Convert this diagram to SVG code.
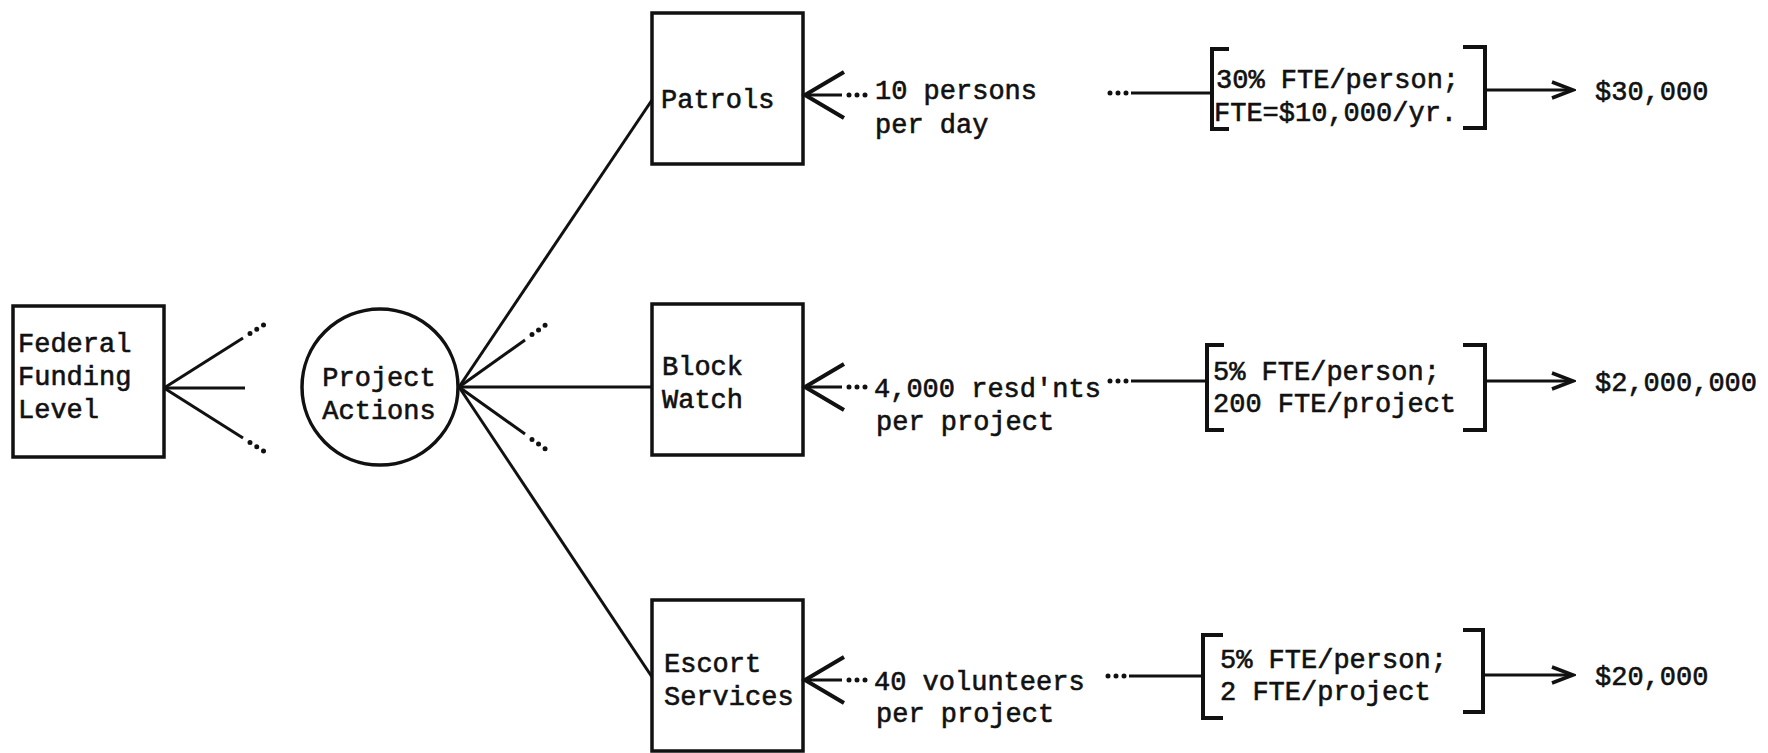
<svg xmlns="http://www.w3.org/2000/svg" width="1768" height="753" viewBox="0 0 1768 753">
<style>
  text { font-family: "Liberation Mono", "Courier New", monospace; font-size: 27px; fill: #111; stroke: #111; stroke-width: 0.6; }
  .box { fill: none; stroke: #111; stroke-width: 3.5; }
  .ln { fill: none; stroke: #111; stroke-width: 3; }
  .br { fill: none; stroke: #111; stroke-width: 4; }
  .dots { fill: none; stroke: #111; stroke-width: 5; stroke-linecap: round; stroke-dasharray: 0 8; }
</style>
<defs>
  <marker id="openR" markerUnits="userSpaceOnUse" markerWidth="26" markerHeight="22" refX="23" refY="11" orient="auto">
    <path d="M2,3 L23,11 L2,19" fill="none" stroke="#111" stroke-width="3.5"/>
  </marker>
  <marker id="openBig" markerUnits="userSpaceOnUse" markerWidth="46" markerHeight="52" refX="42" refY="26" orient="auto">
    <path d="M3,3 L42,26 L3,49" fill="none" stroke="#111" stroke-width="4"/>
  </marker>
</defs>
<rect width="1768" height="753" fill="#fff"/>

<g id="connectors">
  <!-- Federal fan -->
  <path class="ln" d="M164,388 L243,338"/>
  <path class="dots" d="M250,333.5 L267,322.7"/>
  <path class="ln" d="M164,388 L245,388"/>
  <path class="ln" d="M164,388 L243,438"/>
  <path class="dots" d="M250,442.5 L267,453.3"/>
  <!-- Project Actions fan -->
  <path class="ln" d="M459,387 L652,100"/>
  <path class="ln" d="M459,387 L525,340"/>
  <path class="dots" d="M532,334.5 L549,322.5"/>
  <path class="ln" d="M459,387 L652,387"/>
  <path class="ln" d="M459,387 L525,434"/>
  <path class="dots" d="M532,439.5 L549,451.5"/>
  <path class="ln" d="M459,387 L652,677"/>
  <!-- Row 1 -->
  <path class="ln" d="M842,95 L805,95" marker-end="url(#openBig)"/>
  <path class="dots" d="M849,95 L866,95"/>
  <path class="dots" d="M1110,93 L1127,93"/>
  <path class="ln" d="M1131,93 L1212,93"/>
  <path class="br" d="M1229,49 L1212,49 L1212,129 L1229,129"/>
  <path class="br" d="M1463,47 L1485,47 L1485,128 L1463,128"/>
  <path class="ln" d="M1487,90 L1573,90" marker-end="url(#openR)"/>
  <!-- Row 2 -->
  <path class="ln" d="M842,387 L805,387" marker-end="url(#openBig)"/>
  <path class="dots" d="M849,387 L866,387"/>
  <path class="dots" d="M1110,381 L1127,381"/>
  <path class="ln" d="M1131,381 L1207,381"/>
  <path class="br" d="M1224,345 L1207,345 L1207,430 L1224,430"/>
  <path class="br" d="M1463,345 L1485,345 L1485,430 L1463,430"/>
  <path class="ln" d="M1487,381 L1573,381" marker-end="url(#openR)"/>
  <!-- Row 3 -->
  <path class="ln" d="M842,680 L805,680" marker-end="url(#openBig)"/>
  <path class="dots" d="M849,680 L866,680"/>
  <path class="dots" d="M1108,676 L1125,676"/>
  <path class="ln" d="M1129,676 L1203,676"/>
  <path class="br" d="M1223,635 L1203,635 L1203,718 L1223,718"/>
  <path class="br" d="M1463,630 L1483,630 L1483,712 L1463,712"/>
  <path class="ln" d="M1485,675 L1573,675" marker-end="url(#openR)"/>
</g>

<g id="federal">
  <rect class="box" x="13" y="306" width="151" height="151"/>
  <text x="18" y="352">Federal</text>
  <text x="18" y="385">Funding</text>
  <text x="18" y="418">Level</text>
</g>

<g id="project-actions">
  <circle class="box" cx="380" cy="387" r="78"/>
  <text x="379" y="386" text-anchor="middle">Project</text>
  <text x="379" y="419" text-anchor="middle">Actions</text>
</g>

<g id="patrols">
  <rect class="box" x="652" y="13" width="151" height="151"/>
  <text x="661" y="108">Patrols</text>
</g>

<g id="block-watch">
  <rect class="box" x="652" y="304" width="151" height="151"/>
  <text x="662" y="375">Block</text>
  <text x="662" y="408">Watch</text>
</g>

<g id="escort-services">
  <rect class="box" x="652" y="600" width="151" height="151"/>
  <text x="664" y="672">Escort</text>
  <text x="664" y="705">Services</text>
</g>

<g id="row1-labels">
  <text x="875" y="99">10 persons</text>
  <text x="875" y="133">per day</text>
  <text x="1216" y="88">30% FTE/person;</text>
  <text x="1214" y="121">FTE=$10,000/yr.</text>
  <text x="1595" y="100">$30,000</text>
</g>

<g id="row2-labels">
  <text x="874" y="397">4,000 resd'nts</text>
  <text x="876" y="430">per project</text>
  <text x="1213" y="380">5% FTE/person;</text>
  <text x="1213" y="412">200 FTE/project</text>
  <text x="1595" y="391">$2,000,000</text>
</g>

<g id="row3-labels">
  <text x="874" y="690">40 volunteers</text>
  <text x="876" y="722">per project</text>
  <text x="1220" y="668">5% FTE/person;</text>
  <text x="1220" y="700">2 FTE/project</text>
  <text x="1595" y="685">$20,000</text>
</g>
</svg>
